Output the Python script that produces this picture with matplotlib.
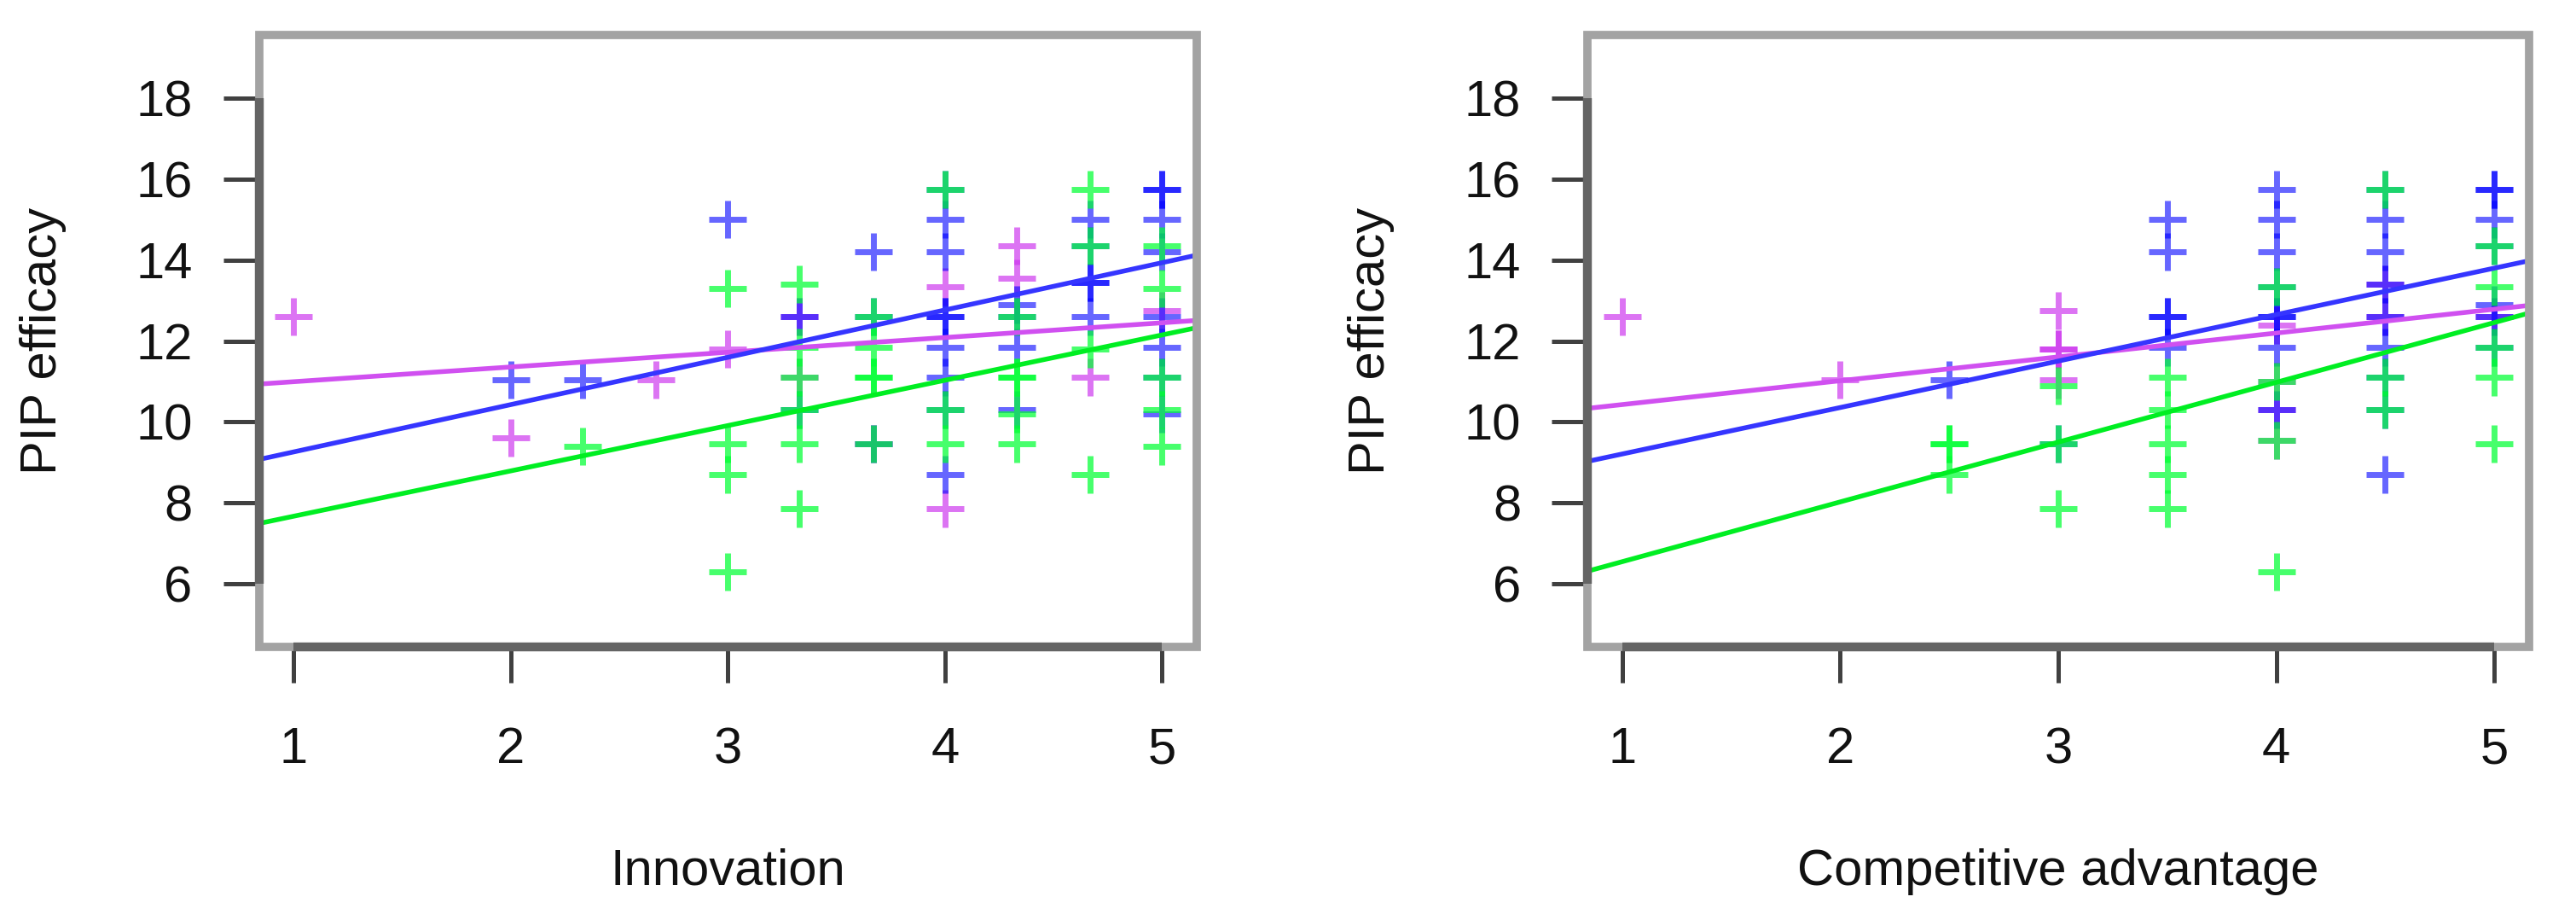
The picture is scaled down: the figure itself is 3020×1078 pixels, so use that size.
import matplotlib.pyplot as plt
from matplotlib.patches import Rectangle

plt.rcParams['font.family'] = ['Liberation Sans', 'DejaVu Sans']

# axis ticks and limits (R style, 4% padding)
x_ticks = [1, 2, 3, 4, 5]
y_ticks = [6, 8, 10, 12, 14, 16, 18]
x_range = (0.84, 5.16)
y_range = (4.44, 19.56)

group_names = ['magenta', 'blue', 'green']
point_colors = ['#CC33EE', '#0000FF', '#00FF33']
point_alphas = [0.68, 0.6, 0.72]
line_colors = ['#D050F0', '#3535FF', '#00EE22']

# ---- Innovation panel ----
inno_mag_x = [1, 2, 2.67, 3, 3.33, 3.33, 3.67, 4, 4, 4.33, 4.33, 4.67, 5]
inno_mag_y = [12.6, 9.6, 11.05, 11.8, 12.6, 11.1, 9.45, 13.35, 7.85, 14.35, 13.55, 11.1, 12.75]

inno_blue_x = [2, 2.33, 3, 3.33, 3.33, 3.67, 3.67, 3.67,
               4, 4, 4, 4, 4, 4, 4, 4, 4,
               4.33, 4.33, 4.33, 4.33,
               4.67, 4.67, 4.67, 4.67, 4.67,
               5, 5, 5, 5, 5, 5, 5, 5]
inno_blue_y = [11.05, 11.05, 15.0, 12.6, 10.3, 14.2, 12.6, 9.45,
               15.75, 15.0, 14.2, 12.6, 12.6, 11.85, 11.1, 10.3, 8.7,
               12.9, 12.6, 11.85, 10.3,
               15.0, 14.35, 13.45, 13.45, 12.6,
               15.75, 15.75, 15.0, 14.2, 12.6, 11.85, 11.1, 10.2]

inno_green_x = [2.33, 3, 3, 3, 3,
                3.33, 3.33, 3.33, 3.33, 3.33, 3.33,
                3.67, 3.67, 3.67, 3.67, 3.67,
                4, 4, 4,
                4.33, 4.33, 4.33, 4.33, 4.33,
                4.67, 4.67, 4.67, 4.67,
                5, 5, 5, 5, 5]
inno_green_y = [9.4, 13.3, 9.45, 8.7, 6.3,
                13.4, 11.85, 11.1, 10.3, 9.45, 7.85,
                12.6, 11.85, 11.1, 11.1, 9.45,
                15.75, 10.3, 9.45,
                12.6, 11.1, 11.1, 10.2, 9.45,
                15.75, 14.35, 11.8, 8.7,
                14.35, 13.3, 11.1, 10.3, 9.4]

# regression lines (intercept, slope)
inno_intercepts = [10.63, 8.09, 6.55]
inno_slopes = [0.364, 1.169, 1.12]

# ---- Competitive advantage panel ----
comp_mag_x = [1, 2, 3, 3, 3, 3, 4, 4, 4, 4, 4.5, 4.5, 5]
comp_mag_y = [12.6, 11.05, 12.75, 11.8, 11.8, 11.05, 12.4, 11.0, 10.3, 9.55, 13.4, 12.6, 12.6]

comp_blue_x = [2.5, 3, 3.5, 3.5, 3.5, 3.5, 3.5,
               4, 4, 4, 4, 4, 4, 4, 4,
               4.5, 4.5, 4.5, 4.5, 4.5, 4.5, 4.5, 4.5, 4.5,
               5, 5, 5, 5, 5, 5, 5]
comp_blue_y = [11.05, 9.45, 15.0, 14.2, 12.6, 12.6, 11.85,
               15.75, 15.0, 14.2, 13.35, 12.6, 12.6, 11.85, 10.3,
               15.75, 15.0, 14.2, 13.4, 12.6, 11.85, 11.1, 10.3, 8.7,
               15.75, 15.75, 15.0, 14.35, 12.9, 12.6, 11.85]

comp_green_x = [2.5, 2.5, 2.5, 3, 3, 3,
                3.5, 3.5, 3.5, 3.5, 3.5,
                4, 4, 4, 4,
                4.5, 4.5, 4.5,
                5, 5, 5, 5, 5]
comp_green_y = [9.45, 9.45, 8.7, 10.9, 9.45, 7.85,
                11.1, 10.3, 9.45, 8.7, 7.85,
                13.35, 11.0, 9.55, 6.3,
                15.75, 11.1, 10.3,
                14.35, 13.35, 11.85, 11.1, 9.45]

comp_intercepts = [9.84, 8.06, 5.07]
comp_slopes = [0.589, 1.148, 1.477]


def draw_panel(ax, xs, ys, intercepts, slopes, xlabel):
    for x, y, c, a in zip(xs, ys, point_colors, point_alphas):
        ax.plot(x, y, linestyle='none', marker='+', markersize=32,
                markeredgewidth=5, color=c, alpha=a)
    for b, m, c in zip(intercepts, slopes, line_colors):
        ax.axline((0, b), slope=m, color=c, lw=4)

    ax.set_xlim(*x_range)
    ax.set_ylim(*y_range)
    ax.set_xticks(x_ticks)
    ax.set_yticks(y_ticks)
    ax.tick_params(axis='both', length=30, width=3.6, color='#404040',
                   labelsize=43, labelcolor='#111111')
    ax.tick_params(axis='x', pad=37)
    ax.tick_params(axis='y', pad=26)

    # light box all round, darker axis lines only between end ticks
    ax.add_patch(Rectangle((0, 0), 1, 1, transform=ax.transAxes, fill=False,
                           lw=7, edgecolor='#a3a3a3', joinstyle='miter',
                           clip_on=False, zorder=5))
    for side in ['top', 'right']:
        ax.spines[side].set_visible(False)
    ax.spines['bottom'].set_bounds(x_ticks[0], x_ticks[-1])
    ax.spines['left'].set_bounds(y_ticks[0], y_ticks[-1])
    for side in ['bottom', 'left']:
        ax.spines[side].set_linewidth(7.5)
        ax.spines[side].set_color('#646464')
        ax.spines[side].set_zorder(6)
        ax.spines[side].set_capstyle('butt')

    ax.set_xlabel(xlabel, fontsize=43, color='#111111')
    ax.set_ylabel('PIP efficacy', fontsize=43, color='#111111')
    ax.xaxis.set_label_coords(0.5, -0.329)
    ax.yaxis.set_label_coords(-0.205, 0.5)


fig = plt.figure(figsize=(30.2, 10.78), dpi=100)
ax1 = fig.add_axes([0.1005, 0.2968, 0.3641, 0.6651])
ax2 = fig.add_axes([0.6162, 0.2968, 0.3656, 0.6651])

draw_panel(ax1,
           [inno_mag_x, inno_blue_x, inno_green_x],
           [inno_mag_y, inno_blue_y, inno_green_y],
           inno_intercepts, inno_slopes, 'Innovation')
draw_panel(ax2,
           [comp_mag_x, comp_blue_x, comp_green_x],
           [comp_mag_y, comp_blue_y, comp_green_y],
           comp_intercepts, comp_slopes, 'Competitive advantage')

fig.savefig('out.png', dpi=100)
